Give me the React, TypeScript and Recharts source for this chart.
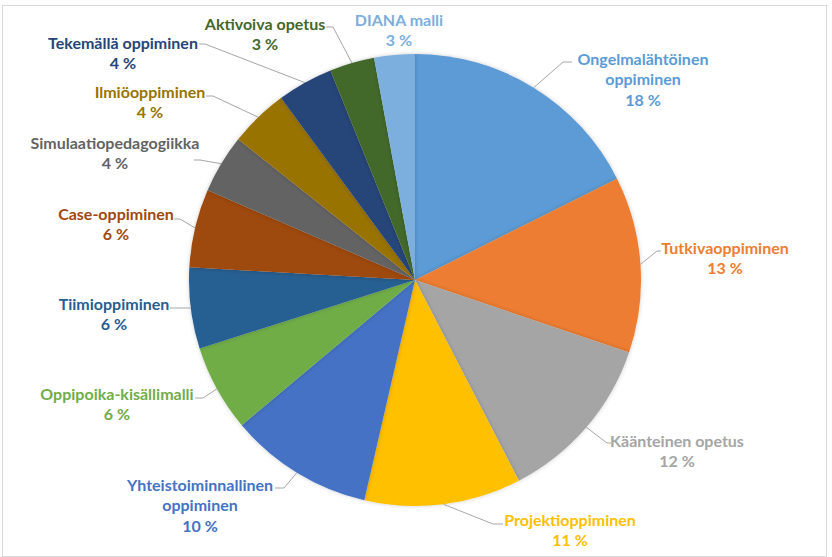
import React from 'react';
import { PieChart, Pie, Cell } from 'recharts';

// categories and shares (%)
const methods = [
  'Ongelmalähtöinen oppiminen',
  'Tutkivaoppiminen',
  'Käänteinen opetus',
  'Projektioppiminen',
  'Yhteistoiminnallinen oppiminen',
  'Oppipoika-kisällimalli',
  'Tiimioppiminen',
  'Case-oppiminen',
  'Simulaatiopedagogiikka',
  'Ilmiöoppiminen',
  'Tekemällä oppiminen',
  'Aktivoiva opetus',
  'DIANA malli',
];
const shares = [17.6, 12.6, 12.2, 11.2, 10.3, 6.2, 5.8, 5.6, 4.2, 4.2, 4.0, 3.2, 2.9];

// how each label is broken into lines
const labelLines = [
  ['Ongelmalähtöinen', 'oppiminen'],
  ['Tutkivaoppiminen'],
  ['Käänteinen opetus'],
  ['Projektioppiminen'],
  ['Yhteistoiminnallinen', 'oppiminen'],
  ['Oppipoika-kisällimalli'],
  ['Tiimioppiminen'],
  ['Case-oppiminen'],
  ['Simulaatiopedagogiikka'],
  ['Ilmiöoppiminen'],
  ['Tekemällä oppiminen'],
  ['Aktivoiva opetus'],
  ['DIANA malli'],
];

const colors = [
  '#5B9BD5', '#ED7D31', '#A5A5A5', '#FFC000', '#4472C4', '#70AD47',
  '#255E91', '#9E480E', '#636363', '#997300', '#264478', '#43682B', '#7CAFDD',
];

// label placement relative to pie centre: text centre x, first line y, leader elbow, leader end
const labelLayout = [
  { tx: 228, ty: -222, ex: 148, ey: -218, hx: 157 },
  { tx: 310, ty: -33, ex: 242, ey: -29, hx: 246 },
  { tx: 262, ty: 160, ex: 192, ey: 163, hx: 196 },
  { tx: 155, ty: 239, ex: 78, ey: 244, hx: 88 },
  { tx: -215, ty: 204, ex: -131, ey: 208, hx: -140 },
  { tx: -298, ty: 113, ex: -212, ey: 118, hx: -220 },
  { tx: -301, ty: 23, ex: -225, ey: 28, hx: -245 },
  { tx: -299, ty: -67, ex: -235, ey: -61, hx: -241 },
  { tx: -300, ty: -138, ex: -215, ey: -120, hx: -221 },
  { tx: -265, ty: -189, ex: -202, ey: -184, hx: -209 },
  { tx: -292, ty: -238, ex: -210, ey: -236, hx: -216 },
  { tx: -150, ty: -257, ex: -82, ey: -253, hx: -89 },
  { tx: -16, ty: -261, ex: null, ey: null, hx: null },
];

const data = methods.map((name, i) => ({ name, value: shares[i] }));

const RAD = Math.PI / 180;
const LINE_H = 20.5;

const renderLabel = (props: any) => {
  const { cx, cy, midAngle, outerRadius, percent, index } = props;
  const spot = labelLayout[index];
  const color = colors[index];
  const rimX = cx + outerRadius * Math.cos(-midAngle * RAD);
  const rimY = cy + outerRadius * Math.sin(-midAngle * RAD);
  const lines = [...labelLines[index], `${Math.round(percent * 100)} %`];
  return (
    <g key={`lbl-${index}`}>
      {spot.ex !== null && (
        <polyline
          points={`${rimX},${rimY} ${cx + spot.ex},${cy + spot.ey} ${cx + spot.hx},${cy + spot.ey}`}
          fill="none"
          stroke="#A6A6A6"
          strokeWidth={1}
        />
      )}
      {lines.map((t, k) => (
        <text
          key={k}
          x={cx + spot.tx}
          y={cy + spot.ty + k * LINE_H}
          fill={color}
          textAnchor="middle"
          dominantBaseline="central"
          fontFamily="Lato, sans-serif"
          fontWeight={700}
          fontSize={16}
        >
          {t}
        </text>
      ))}
    </g>
  );
};

const App = () => {
  return (
    <div style={{ position: 'absolute', left: 0, top: 0, width: 832, height: 557, background: '#fff' }}>
      <div
        style={{
          position: 'absolute',
          left: 2,
          top: 5,
          width: 823,
          height: 550,
          border: '1px solid #D9D9D9',
        }}
      />
      <PieChart width={832} height={557} margin={{ top: 0, right: 0, bottom: 0, left: 0 }} style={{ position: 'absolute', left: 0, top: 0 }}>
        <defs>
          <filter id="pieShadow" x="-10%" y="-10%" width="120%" height="120%">
            <feDropShadow dx="0" dy="0" stdDeviation="2" floodColor="#000" floodOpacity="0.2" />
          </filter>
        </defs>
        <Pie
          data={data}
          dataKey="value"
          nameKey="name"
          cx={415}
          cy={280}
          outerRadius={226}
          startAngle={90}
          endAngle={-270}
          stroke="none"
          label={renderLabel}
          labelLine={false}
          isAnimationActive={false}
          style={{ filter: 'url(#pieShadow)' }}
        >
          {data.map((d, i) => (
            <Cell key={d.name} fill={colors[i]} />
          ))}
        </Pie>
      </PieChart>
    </div>
  );
};

export default App;
